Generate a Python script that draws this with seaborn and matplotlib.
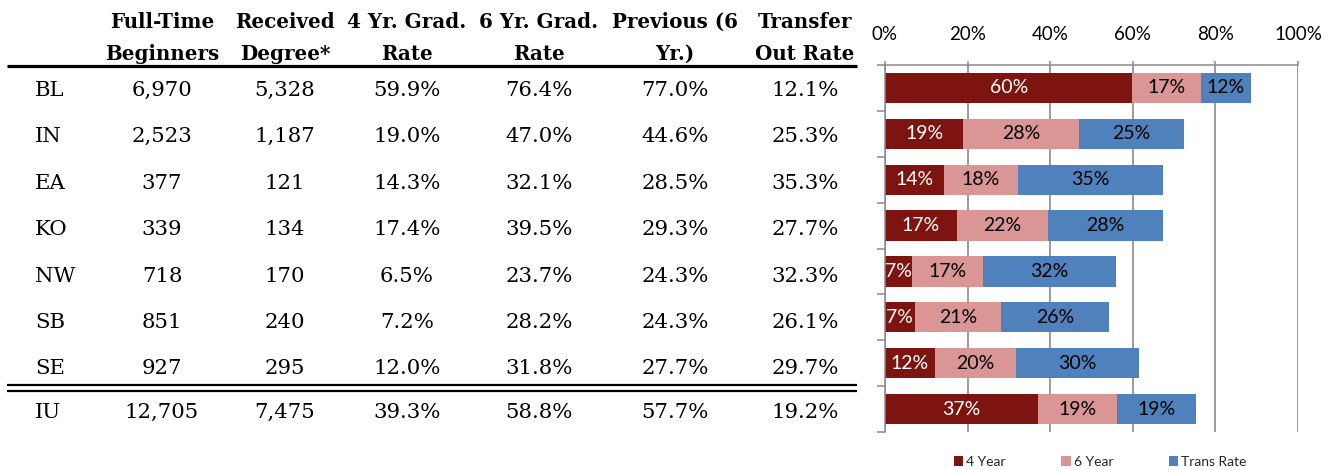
import numpy as np
import pandas as pd
import matplotlib
matplotlib.use("Agg")
import matplotlib.pyplot as plt
from matplotlib.patches import Patch
import seaborn as sns

# ---------------- data ----------------
campuses = ["BL", "IN", "EA", "KO", "NW", "SB", "SE", "IU"]
headers = ["Full-Time\nBeginners", "Received\nDegree*", "4 Yr. Grad.\nRate",
           "6 Yr. Grad.\nRate", "Previous (6\nYr.)", "Transfer\nOut Rate"]
full_time = [6970, 2523, 377, 339, 718, 851, 927, 12705]
received = [5328, 1187, 121, 134, 170, 240, 295, 7475]
grad4_rate = [59.9, 19.0, 14.3, 17.4, 6.5, 7.2, 12.0, 39.3]
grad6_rate = [76.4, 47.0, 32.1, 39.5, 23.7, 28.2, 31.8, 58.8]
previous6 = [77.0, 44.6, 28.5, 29.3, 24.3, 24.3, 27.7, 57.7]
transfer_out = [12.1, 25.3, 35.3, 27.7, 32.3, 26.1, 29.7, 19.2]

# chart series (percent of cohort)
bar_4yr = [59.9, 19.0, 14.3, 17.4, 6.5, 7.2, 12.0, 37.0]
bar_6yr = [16.5, 28.0, 17.8, 22.1, 17.2, 21.0, 19.8, 19.2]
bar_trans = [12.1, 25.3, 35.3, 27.7, 32.3, 26.1, 29.7, 19.2]
series_names = ["4 Year", "6 Year", "Trans Rate"]
x_ticks = [0, 20, 40, 60, 80, 100]

# ---------------- style ----------------
sns.set_theme(style="white")
plt.rcParams["font.family"] = ["Lato", "DejaVu Sans"]

RED = "#7E1410"
PINK = "#D99694"
BLUE = "#4F81BD"
GRAY = "#8A8A8A"
W, H = 1335, 470

fig = plt.figure(figsize=(W / 100, H / 100), dpi=100)

# ---------------- table (left) ----------------
tax = fig.add_axes([0, 0, 1, 1], zorder=0)
tax.set_xlim(0, W)
tax.set_ylim(H, 0)
tax.axis("off")

serif = "DejaVu Serif"
col_x = [162, 285, 407, 539, 675, 805]
for cx, h in zip(col_x, headers):
    l1, l2 = h.split("\n")
    tax.text(cx, 28, l1, ha="center", va="baseline", fontsize=14.3,
             fontweight="bold", family=serif, color="black")
    tax.text(cx, 60, l2, ha="center", va="baseline", fontsize=14.3,
             fontweight="bold", family=serif, color="black")

tax.plot([7, 857], [66, 66], color="black", lw=2.3, solid_capstyle="butt")
tax.plot([7, 857], [385, 385], color="black", lw=1.6, solid_capstyle="butt")
tax.plot([7, 857], [391, 391], color="black", lw=1.6, solid_capstyle="butt")

row_base = [96 + 46.4 * i for i in range(7)] + [418]
for i, camp in enumerate(campuses):
    y = row_base[i]
    vals = [f"{full_time[i]:,}", f"{received[i]:,}", f"{grad4_rate[i]:.1f}%",
            f"{grad6_rate[i]:.1f}%", f"{previous6[i]:.1f}%", f"{transfer_out[i]:.1f}%"]
    tax.text(35, y, camp, ha="left", va="baseline", fontsize=15.3,
             family=serif, color="black")
    for cx, v in zip(col_x, vals):
        tax.text(cx, y, v, ha="center", va="baseline", fontsize=15.3,
                 family=serif, color="black")

# ---------------- stacked bar chart (right) ----------------
ax = fig.add_axes([885 / W, 1 - 432 / H, 413 / W, 367 / H], zorder=2)

df = pd.DataFrame({"campus": campuses, "y4": bar_4yr, "y6": bar_6yr, "tr": bar_trans})
df["c6"] = df["y4"] + df["y6"]
df["ctr"] = df["c6"] + df["tr"]

for col, color in [("ctr", BLUE), ("c6", PINK), ("y4", RED)]:
    sns.barplot(data=df, y="campus", x=col, orient="h", color=color,
                saturation=1, width=0.66, ax=ax, zorder=2, linewidth=0)

def pct(v):
    return f"{int(v + 0.5)}%"

for i in range(len(campuses)):
    left = 0.0
    for w, tc in [(bar_4yr[i], "white"), (bar_6yr[i], "black"), (bar_trans[i], "black")]:
        ax.text(left + w / 2, i, pct(w), ha="center", va="center",
                fontsize=14, color=tc, zorder=5)
        left += w

ax.set_xlim(0, 100)
ax.set_ylim(len(campuses) - 0.5, -0.5)
ax.set_xlabel("")
ax.set_ylabel("")
ax.set_xticks(x_ticks)
ax.set_xticklabels([f"{t}%" for t in x_ticks])
ax.xaxis.tick_top()
ax.tick_params(axis="x", which="major", top=True, bottom=False, labeltop=True,
               labelbottom=False, length=3, width=1.1, color=GRAY, pad=13,
               labelsize=13.5, labelcolor="black", direction="out")
ax.set_yticks(range(len(campuses)))
ax.set_yticklabels([])
ax.set_yticks(np.arange(-0.5, len(campuses), 1), minor=True)
ax.tick_params(axis="y", which="major", length=0, left=False)
ax.tick_params(axis="y", which="minor", left=True, length=6, width=1.1,
               color=GRAY, direction="out")

ax.set_axisbelow(True)
ax.xaxis.grid(True, color=GRAY, lw=1.2)
ax.yaxis.grid(False)
for s in ["right", "bottom"]:
    ax.spines[s].set_visible(False)
for s in ["top", "left"]:
    ax.spines[s].set_visible(True)
    ax.spines[s].set_color(GRAY)
    ax.spines[s].set_linewidth(1.1)
ax.set_facecolor("none")

handles = [Patch(facecolor=c, edgecolor="none", label=n)
           for c, n in zip([RED, PINK, BLUE], series_names)]
fig.legend(handles=handles, loc="center", bbox_to_anchor=(1100 / W, 1 - 462 / H),
           ncol=3, frameon=False, fontsize=10, handlelength=0.7, handleheight=0.7,
           handletextpad=0.2, columnspacing=4.0, borderpad=0, borderaxespad=0)

fig.savefig("out.png", dpi=100, facecolor="white")
